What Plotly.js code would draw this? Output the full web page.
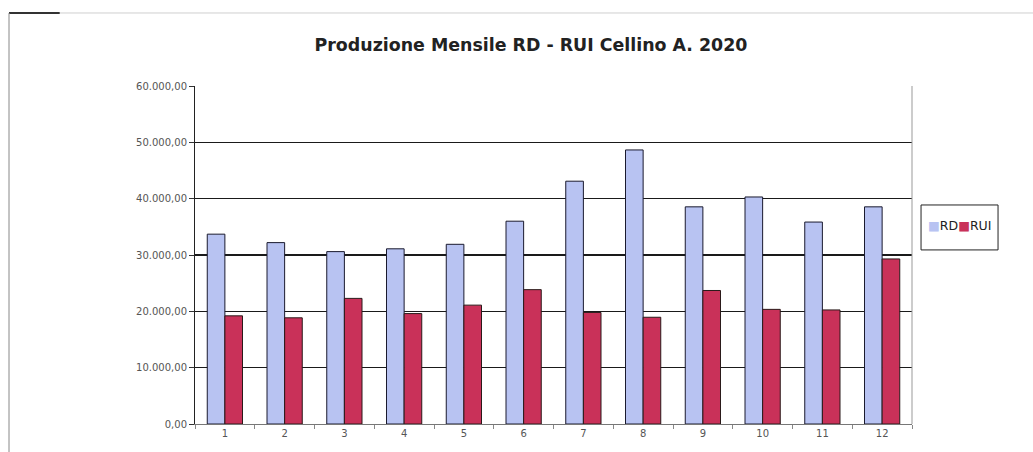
<!DOCTYPE html>
<html>
<head>
<meta charset="utf-8">
<script src="https://cdn.plot.ly/plotly-3.0.1.min.js"></script>
<style>
  html, body { margin: 0; padding: 0; background: #ffffff; }
  #chart { width: 1033px; height: 452px; }
</style>
</head>
<body>
<div id="chart"></div>
<script>
// Monthly production, RD vs RUI (kg), months 1..12
const months = ['1', '2', '3', '4', '5', '6', '7', '8', '9', '10', '11', '12'];
const rdValues = [33700, 32200, 30600, 31100, 31900, 36000, 43100, 48650, 38550, 40300, 35850, 38550];
const ruiValues = [19200, 18850, 22300, 19600, 21100, 23850, 19800, 18950, 23700, 20350, 20250, 29300];
const yTicks = [0, 10000, 20000, 30000, 40000, 50000, 60000];
const seriesNames = ['RD', 'RUI'];

const rdColor = '#b8c3f2';
const ruiColor = '#c93159';

// Italian number format: thousands '.', decimals ','
function itNumber(v) {
  const parts = v.toFixed(2).split('.');
  const intPart = parts[0].replace(/\B(?=(\d{3})+(?!\d))/g, '.');
  return intPart + ',' + parts[1];
}
const yTickText = yTicks.map(itNumber);

const traces = [
  {
    type: 'bar', name: seriesNames[0], x: months, y: rdValues,
    marker: { color: rdColor, line: { color: '#1a1a2e', width: 1 } }
  },
  {
    type: 'bar', name: seriesNames[1], x: months, y: ruiValues,
    marker: { color: ruiColor, line: { color: '#2a1a1a', width: 1 } }
  }
];

const tickFont = { family: 'DejaVu Sans, Arial, sans-serif', size: 10, color: '#555' };

// legend box geometry (paper units, right of the plot area)
const legX0 = 1.0126, legX1 = 1.12, legY0 = 0.515, legY1 = 0.648;

const layout = {
  width: 1033, height: 452,
  margin: { l: 195, r: 121, t: 86, b: 28 },
  paper_bgcolor: '#ffffff',
  plot_bgcolor: '#ffffff',
  barmode: 'group',
  bargap: 0.41,
  bargroupgap: 0,
  showlegend: false,
  title: {
    text: '<b>Produzione Mensile RD - RUI Cellino A. 2020</b>',
    font: { family: 'DejaVu Sans, Arial, sans-serif', size: 17.4, color: '#222' },
    x: 0.514, xref: 'container', xanchor: 'center',
    y: 0.90, yref: 'container', yanchor: 'middle'
  },
  xaxis: {
    type: 'category',
    tickfont: tickFont,
    showgrid: false,
    showline: true, linecolor: '#777', linewidth: 1,
    ticks: 'outside', tickson: 'boundaries', ticklen: 4, tickcolor: '#888',
    zeroline: false,
    fixedrange: true
  },
  yaxis: {
    range: [0, 60000],
    tickvals: yTicks,
    ticktext: yTickText,
    tickfont: tickFont,
    showgrid: true, gridcolor: '#1a1a1a', gridwidth: 1.6,
    showline: true, linecolor: '#222', linewidth: 1,
    ticks: 'outside', ticklen: 5, tickcolor: '#333',
    zeroline: false,
    fixedrange: true
  },
  annotations: [
    {
      xref: 'paper', yref: 'paper',
      x: (legX0 + legX1) / 2, y: (legY0 + legY1) / 2 + 0.005,
      xanchor: 'center', yanchor: 'middle', showarrow: false,
      text: '<span style="color:' + rdColor + '">■</span>' + seriesNames[0] +
            '<span style="color:' + ruiColor + '">■</span>' + seriesNames[1],
      font: { family: 'DejaVu Sans, Arial, sans-serif', size: 12.5, color: '#222' }
    }
  ],
  shapes: [
    // legend frame
    { type: 'rect', xref: 'paper', yref: 'paper', x0: legX0, x1: legX1, y0: legY0, y1: legY1,
      line: { color: '#222', width: 1 }, fillcolor: 'rgba(0,0,0,0)' },
    // right edge of the plot area
    { type: 'line', xref: 'paper', yref: 'paper', x0: 1, x1: 1, y0: 0, y1: 1,
      line: { color: '#999', width: 1 } },
    // outer chart frame (top and left edges)
    { type: 'line', xref: 'paper', yref: 'paper', x0: -0.2594, x1: 1.1855, y0: 1.216, y1: 1.216,
      line: { color: '#cfcfcf', width: 1 } },
    { type: 'line', xref: 'paper', yref: 'paper', x0: -0.2594, x1: -0.1887, y0: 1.216, y1: 1.216,
      line: { color: '#333', width: 2 } },
    { type: 'line', xref: 'paper', yref: 'paper', x0: -0.2594, x1: -0.2594, y0: 1.216, y1: -0.083,
      line: { color: '#888', width: 1 } }
  ]
};

Plotly.newPlot('chart', traces, layout, { displayModeBar: false, staticPlot: true });
</script>
</body>
</html>
